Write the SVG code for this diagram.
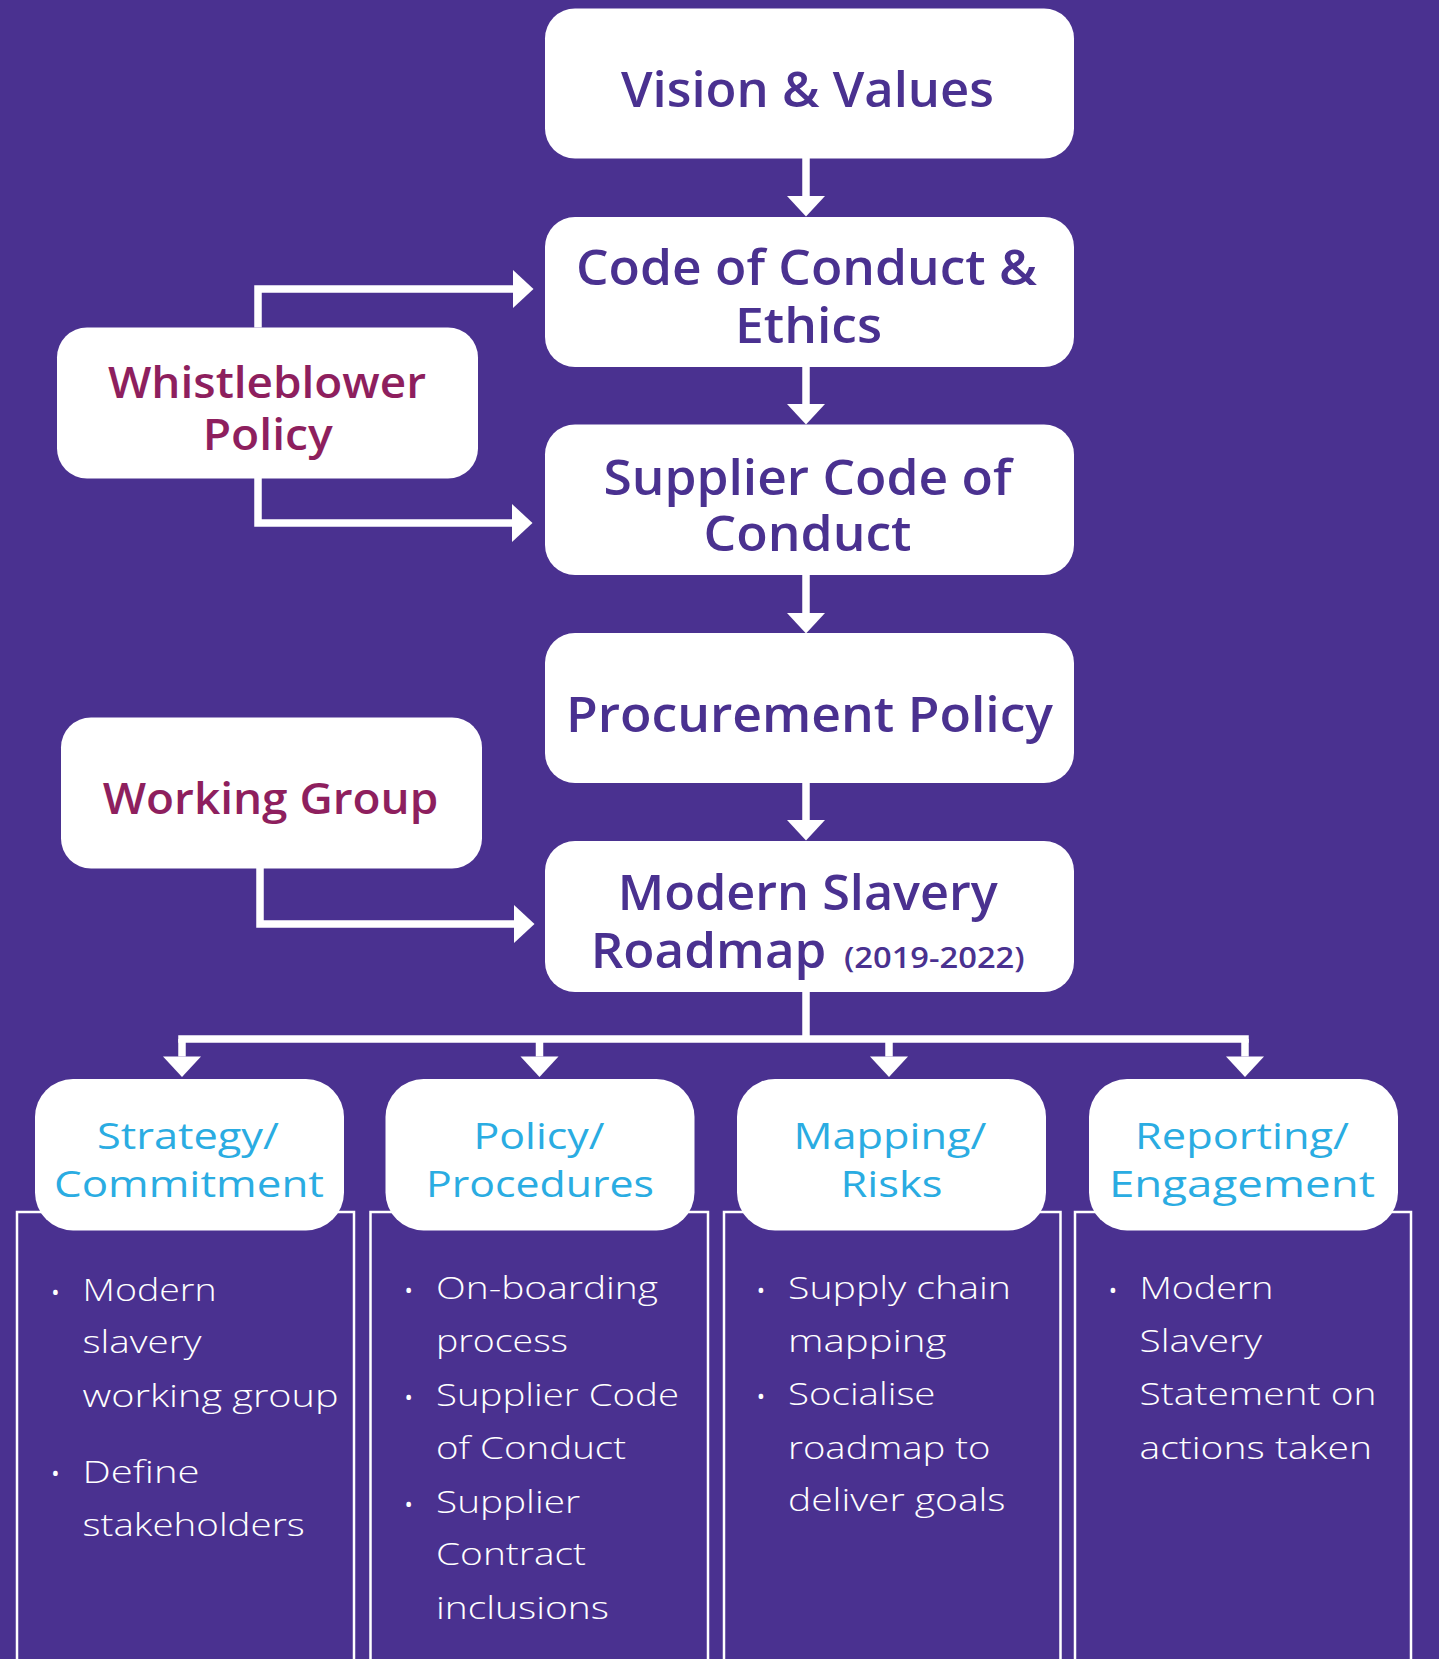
<svg xmlns="http://www.w3.org/2000/svg" width="1439" height="1659" viewBox="0 0 1439 1659">
  <style>
    .box { fill: #ffffff; }
    .col { fill: none; stroke: #ffffff; stroke-width: 2.5; }
    .wire { fill: none; stroke: #ffffff; stroke-width: 7.5; stroke-linejoin: miter; stroke-linecap: butt; }
    .head { font-family: "Open Sans", "Liberation Sans", sans-serif; font-weight: 600; font-size: 48px; fill: #4A3190; text-anchor: middle; }
    .side { font-family: "Open Sans", "Liberation Sans", sans-serif; font-weight: 600; font-size: 44px; fill: #8E1F5E; text-anchor: middle; }
    .sub { font-family: "Open Sans", "Liberation Sans", sans-serif; font-weight: 400; font-size: 37px; fill: #2AACE2; text-anchor: middle; }
    .item { font-family: "Open Sans", "Liberation Sans", sans-serif; font-weight: 300; font-size: 32px; fill: #ffffff; }
    .dot { font-family: "Open Sans", "Liberation Sans", sans-serif; font-size: 22px; fill: #ffffff; text-anchor: middle; }
  </style>
  <defs>
    <marker id="arrow" markerUnits="userSpaceOnUse" markerWidth="21" markerHeight="38" refX="0" refY="19" orient="auto" overflow="visible">
      <path d="M0,0 L20.5,19 L0,38 Z" fill="#ffffff"/>
    </marker>
  </defs>

  <rect width="1439" height="1659" fill="#4A3190"/>

  <!-- column frames under the four work streams -->
  <g id="columns">
    <rect class="col" x="17" y="1212" width="337" height="470"/>
    <rect class="col" x="370.5" y="1212" width="337.5" height="470"/>
    <rect class="col" x="724" y="1212" width="336.5" height="470"/>
    <rect class="col" x="1075" y="1212" width="336" height="470"/>
  </g>

  <g id="connectors">
    <path class="wire" d="M806,158 V196" marker-end="url(#arrow)"/>
    <path class="wire" d="M806,367 V404" marker-end="url(#arrow)"/>
    <path class="wire" d="M806,575 V613" marker-end="url(#arrow)"/>
    <path class="wire" d="M806,783 V820" marker-end="url(#arrow)"/>
    <path class="wire" d="M258,327.5 V289 H513" marker-end="url(#arrow)"/>
    <path class="wire" d="M258,478 V523 H512" marker-end="url(#arrow)"/>
    <path class="wire" d="M260,868 V924 H514" marker-end="url(#arrow)"/>
    <path class="wire" d="M806,992 V1039"/>
    <path class="wire" d="M178.25,1039 H1248.75"/>
    <path class="wire" d="M182,1039 V1056.5" marker-end="url(#arrow)"/>
    <path class="wire" d="M539.5,1039 V1056.5" marker-end="url(#arrow)"/>
    <path class="wire" d="M889,1039 V1056.5" marker-end="url(#arrow)"/>
    <path class="wire" d="M1245,1039 V1056.5" marker-end="url(#arrow)"/>
  </g>

  <g id="vision">
    <rect class="box" x="545" y="8.5" width="529" height="150" rx="30"/>
    <text class="head" x="807.5" y="107" textLength="373" lengthAdjust="spacingAndGlyphs">Vision &amp; Values</text>
  </g>

  <g id="code-of-conduct">
    <rect class="box" x="545" y="217" width="529" height="150" rx="30"/>
    <text class="head"><tspan x="806.5" y="285" textLength="461" lengthAdjust="spacingAndGlyphs">Code of Conduct &amp;</tspan><tspan x="808.5" y="343" textLength="147" lengthAdjust="spacingAndGlyphs">Ethics</tspan></text>
  </g>

  <g id="supplier-code">
    <rect class="box" x="545" y="424.5" width="529" height="150.5" rx="30"/>
    <text class="head"><tspan x="807.5" y="495" textLength="408" lengthAdjust="spacingAndGlyphs">Supplier Code of</tspan><tspan x="807.5" y="550.7" textLength="208" lengthAdjust="spacingAndGlyphs">Conduct</tspan></text>
  </g>

  <g id="procurement">
    <rect class="box" x="545" y="633" width="529" height="150" rx="30"/>
    <text class="head" x="809.5" y="731.7" textLength="487" lengthAdjust="spacingAndGlyphs">Procurement Policy</text>
  </g>

  <g id="roadmap">
    <rect class="box" x="545" y="841" width="529" height="151" rx="30"/>
    <text class="head"><tspan x="807.75" y="910" textLength="380" lengthAdjust="spacingAndGlyphs">Modern Slavery</tspan><tspan x="590.7" y="968" style="text-anchor:start" textLength="235.7" lengthAdjust="spacingAndGlyphs">Roadmap</tspan><tspan x="844" y="968" style="text-anchor:start;font-size:28px" textLength="180.6" lengthAdjust="spacingAndGlyphs">(2019-2022)</tspan></text>
  </g>

  <g id="whistleblower">
    <rect class="box" x="57" y="327.5" width="421" height="151" rx="30"/>
    <text class="side"><tspan x="267" y="397.7" textLength="318" lengthAdjust="spacingAndGlyphs">Whistleblower</tspan><tspan x="267.7" y="450" textLength="130" lengthAdjust="spacingAndGlyphs">Policy</tspan></text>
  </g>

  <g id="working-group">
    <rect class="box" x="61" y="717.5" width="421" height="151" rx="30"/>
    <text class="side" x="270.5" y="814.3" textLength="335.6" lengthAdjust="spacingAndGlyphs">Working Group</text>
  </g>

  <g id="strategy">
    <rect class="box" x="35" y="1079" width="309" height="151.5" rx="38"/>
    <text class="sub"><tspan x="188" y="1149.3" textLength="182" lengthAdjust="spacingAndGlyphs">Strategy/</tspan><tspan x="189" y="1197.3" textLength="270" lengthAdjust="spacingAndGlyphs">Commitment</tspan></text>
    <text class="dot" x="55.5" y="1299.5">•</text>
    <text class="item"><tspan x="82.6" y="1300.7" textLength="134" lengthAdjust="spacingAndGlyphs">Modern</tspan><tspan x="82.6" y="1352.7" textLength="119" lengthAdjust="spacingAndGlyphs">slavery</tspan><tspan x="82.6" y="1406.7" textLength="256" lengthAdjust="spacingAndGlyphs">working group</tspan></text>
    <text class="dot" x="55.5" y="1481">•</text>
    <text class="item"><tspan x="82.6" y="1482.7" textLength="117" lengthAdjust="spacingAndGlyphs">Define</tspan><tspan x="82.6" y="1536" textLength="222" lengthAdjust="spacingAndGlyphs">stakeholders</tspan></text>
  </g>

  <g id="policy">
    <rect class="box" x="385.5" y="1079" width="309" height="151.5" rx="38"/>
    <text class="sub"><tspan x="539" y="1149.3" textLength="131" lengthAdjust="spacingAndGlyphs">Policy/</tspan><tspan x="540" y="1197.3" textLength="228" lengthAdjust="spacingAndGlyphs">Procedures</tspan></text>
    <text class="dot" x="408.6" y="1298">•</text>
    <text class="item"><tspan x="436" y="1299.3" textLength="222" lengthAdjust="spacingAndGlyphs">On-boarding</tspan><tspan x="436" y="1351.7" textLength="132" lengthAdjust="spacingAndGlyphs">process</tspan></text>
    <text class="dot" x="408.6" y="1404.7">•</text>
    <text class="item"><tspan x="436" y="1406" textLength="243" lengthAdjust="spacingAndGlyphs">Supplier Code</tspan><tspan x="436" y="1459" textLength="190" lengthAdjust="spacingAndGlyphs">of Conduct</tspan></text>
    <text class="dot" x="408.6" y="1512">•</text>
    <text class="item"><tspan x="436" y="1512.7" textLength="144" lengthAdjust="spacingAndGlyphs">Supplier</tspan><tspan x="436" y="1565" textLength="150" lengthAdjust="spacingAndGlyphs">Contract</tspan><tspan x="436" y="1619.3" textLength="173" lengthAdjust="spacingAndGlyphs">inclusions</tspan></text>
  </g>

  <g id="mapping">
    <rect class="box" x="737" y="1079" width="309" height="151.5" rx="38"/>
    <text class="sub"><tspan x="890" y="1149.3" textLength="193" lengthAdjust="spacingAndGlyphs">Mapping/</tspan><tspan x="891.5" y="1197.3" textLength="102" lengthAdjust="spacingAndGlyphs">Risks</tspan></text>
    <text class="dot" x="761" y="1298">•</text>
    <text class="item"><tspan x="788" y="1299.3" textLength="223" lengthAdjust="spacingAndGlyphs">Supply chain</tspan><tspan x="788" y="1351.7" textLength="158.5" lengthAdjust="spacingAndGlyphs">mapping</tspan></text>
    <text class="dot" x="761" y="1403.8">•</text>
    <text class="item"><tspan x="788" y="1405" textLength="147.5" lengthAdjust="spacingAndGlyphs">Socialise</tspan><tspan x="788" y="1459.3" textLength="202.5" lengthAdjust="spacingAndGlyphs">roadmap to</tspan><tspan x="788" y="1510.7" textLength="217.5" lengthAdjust="spacingAndGlyphs">deliver goals</tspan></text>
  </g>

  <g id="reporting">
    <rect class="box" x="1089" y="1079" width="309" height="151.5" rx="38"/>
    <text class="sub"><tspan x="1242" y="1149.3" textLength="214" lengthAdjust="spacingAndGlyphs">Reporting/</tspan><tspan x="1242" y="1197.3" textLength="266" lengthAdjust="spacingAndGlyphs">Engagement</tspan></text>
    <text class="dot" x="1113" y="1297.8">•</text>
    <text class="item"><tspan x="1139.5" y="1299" textLength="134" lengthAdjust="spacingAndGlyphs">Modern</tspan><tspan x="1139.5" y="1352" textLength="122.5" lengthAdjust="spacingAndGlyphs">Slavery</tspan><tspan x="1139.5" y="1405" textLength="237" lengthAdjust="spacingAndGlyphs">Statement on</tspan><tspan x="1139.5" y="1459" textLength="232.5" lengthAdjust="spacingAndGlyphs">actions taken</tspan></text>
  </g>
</svg>
